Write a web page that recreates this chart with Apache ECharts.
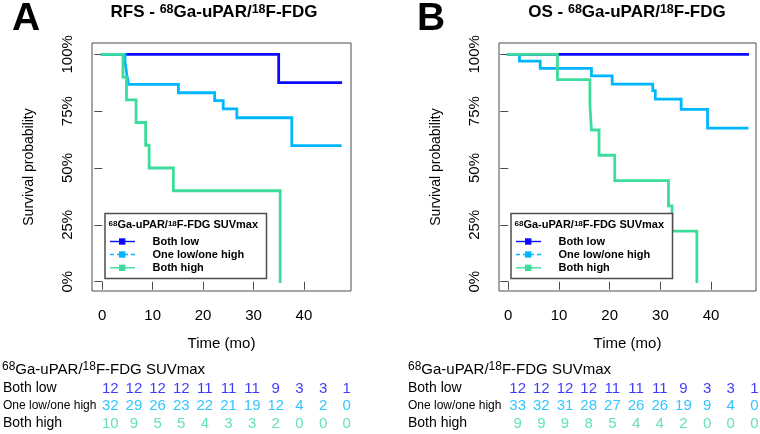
<!DOCTYPE html>
<html><head><meta charset="utf-8">
<script src="https://cdn.jsdelivr.net/npm/echarts@6/dist/echarts.min.js"></script>
<style>html,body{margin:0;padding:0;background:#fff}#c{width:760px;height:434px}</style>
</head><body><div id="c"></div>
<script>
const FONT = "'Liberation Sans', Arial, Helvetica, sans-serif";
const groups = ['Both low', 'One low/one high', 'Both high'];
const colors = ['#0a0aff', '#00b6ff', '#3ddc9a'];

// Panel A: RFS Kaplan-Meier steps [time (mo), survival]
const rfsBothLow = [[0,1],[35.0,0.875],[47.3,0.875]];
const rfsOneHigh = [[0,1],[4.5,0.969],[4.7,0.938],[4.9,0.906],[5.2,0.868],[15.1,0.831],[22.3,0.796],[24.0,0.760],[26.7,0.721],[37.6,0.598],[47.2,0.598]];
const rfsBothHigh = [[0,1],[4.1,0.9],[4.8,0.8],[6.7,0.7],[8.6,0.6],[9.3,0.5],[14.1,0.4],[35.3,0]];

// Panel B: OS
const osBothLow = [[0,1],[47.2,1]];
const osOneHigh = [[0,1],[2.2,0.970],[6.3,0.938],[16.4,0.905],[20.5,0.869],[28.5,0.840],[29.0,0.803],[34.1,0.758],[39.3,0.675],[47.1,0.675]];
const osBothHigh = [[0,1],[9.7,0.889],[16.1,0.778],[16.4,0.667],[17.9,0.556],[21.0,0.444],[31.6,0.333],[32.3,0.222],[37.2,0]];

// Numbers at risk
const riskTimes = ['0','5','10','15','20','25','30','35','40','45','50'];
const rfsRiskBothLow = [12,12,12,12,11,11,11,9,3,3,1];
const rfsRiskOneHigh = [32,29,26,23,22,21,19,12,4,2,0];
const rfsRiskBothHigh = [10,9,5,5,4,3,3,2,0,0,0];
const osRiskBothLow = [12,12,12,12,11,11,11,9,3,3,1];
const osRiskOneHigh = [33,32,31,28,27,26,26,19,9,4,0];
const osRiskBothHigh = [9,9,9,8,5,4,4,2,0,0,0];

const xTicks = [0,10,20,30,40];
const yTicks = [0,0.25,0.5,0.75,1];
const yTickLabels = ['0%','25%','50%','75%','100%'];

const GRAY = '#4d4d4d';

function plotX(gi, min, max) {
  return {
    type: 'value', gridIndex: gi, min: min, max: max,
    axisLine: {show: false},
    splitLine: {show: false},
    axisTick: {show: true, customValues: xTicks, length: 8, lineStyle: {color: GRAY, width: 1}},
    axisLabel: {customValues: xTicks, fontSize: 15, fontFamily: FONT, color: '#000', margin: 17},
    name: 'Time (mo)', nameLocation: 'middle', nameGap: 45,
    nameTextStyle: {fontSize: 15, fontFamily: FONT, color: '#000'}
  };
}
function plotY(gi) {
  return {
    type: 'value', gridIndex: gi, min: -0.041, max: 1.0497,
    axisLine: {show: false},
    splitLine: {show: false},
    axisTick: {show: true, customValues: yTicks, length: 8, lineStyle: {color: GRAY, width: 1}},
    axisLabel: {customValues: yTicks, rotate: 90, fontSize: 15, fontFamily: FONT, color: '#000', margin: 17,
      formatter: v => yTickLabels[yTicks.indexOf(v)] || ''},
    name: 'Survival probability', nameLocation: 'middle', nameRotate: 90, nameGap: 56,
    nameTextStyle: {fontSize: 14, fontFamily: FONT, color: '#000'}
  };
}
function tableX(gi) {
  return {type: 'category', gridIndex: gi, data: riskTimes, boundaryGap: false, show: false};
}
function tableY(gi, margin) {
  return {
    type: 'category', gridIndex: gi, data: groups, inverse: true, boundaryGap: false,
    axisLine: {show: false}, axisTick: {show: false}, splitLine: {show: false},
    axisLabel: {show: true, align: 'left', margin: margin,
      formatter: v => v === 'One low/one high' ? '{n|' + v + '}' : '{w|' + v + '}',
      rich: {
        w: {fontSize: 14, fontFamily: FONT, color: '#000'},
        n: {fontSize: 12, fontFamily: FONT, color: '#000'}
      }}
  };
}
function curve(name, data, ci, xi) {
  return {
    name: name, type: 'line', step: 'end', data: data, xAxisIndex: xi, yAxisIndex: xi,
    showSymbol: false, symbol: 'rect', animation: false,
    lineStyle: {color: colors[ci], width: 2.8, cap: 'square', join: 'miter'},
    itemStyle: {color: colors[ci]}, z: 2 + ci
  };
}
function riskSeries(arr, row, ci, ai) {
  return {
    type: 'scatter', xAxisIndex: ai, yAxisIndex: ai, animation: false,
    data: arr.map((v, i) => [i, row, v]),
    symbolSize: 1, itemStyle: {color: 'rgba(0,0,0,0)'},
    label: {show: true, position: 'inside', formatter: p => String(p.value[2]),
      fontSize: 15, fontFamily: FONT, color: colors[ci]}
  };
}

function supText(x, y, parts, mainSize, supSize, bold, align, raise) {
  const fw = bold ? 'bold' : 'normal';
  let text = '';
  parts.forEach(p => { text += (p[1] ? '{s|' : '{m|') + p[0] + '}'; });
  return {
    type: 'text', x: x, y: y, z: 10,
    style: {
      text: text, align: align, verticalAlign: 'middle',
      rich: {
        m: {fontSize: mainSize, fontFamily: FONT, fontWeight: fw, fill: '#000', color: '#000', verticalAlign: 'bottom', lineHeight: mainSize},
        s: {fontSize: supSize, fontFamily: FONT, fontWeight: fw, fill: '#000', color: '#000', verticalAlign: 'bottom', padding: [0,0,raise,0]}
      }
    }
  };
}
function legendGraphic(dx) {
  const els = [];
  els.push({type: 'rect', shape: {x: 105 + dx, y: 213.5, width: 161.5, height: 65}, style: {fill: '#fff', stroke: GRAY, lineWidth: 1.5}, z: 8});
  els.push(supText(108.5 + dx, 225, [['68',1],['Ga-uPAR/',0],['18',1],['F-FDG SUVmax',0]], 11, 8, true, 'left', 3));
  const rows = [241.5, 254.5, 267.8];
  groups.forEach((g, i) => {
    els.push({type: 'line', z: 9, shape: {x1: 110 + dx, y1: rows[i], x2: 135 + dx, y2: rows[i]},
      style: {stroke: colors[i], lineWidth: 1.4, lineDash: i === 1 ? [4, 3] : null}});
    els.push({type: 'rect', z: 9, shape: {x: 119 + dx, y: rows[i] - 3.2, width: 6.4, height: 6.4}, style: {fill: colors[i]}});
    els.push({type: 'text', z: 10, x: 152.5 + dx, y: rows[i],
      style: {text: g, fontSize: 11, fontWeight: 'bold', fontFamily: FONT, fill: '#000', align: 'left', verticalAlign: 'middle'}});
  });
  return els;
}

const chart = echarts.init(document.getElementById('c'), null, {renderer: 'canvas'});
const graphics = [
  {type: 'text', x: 12, y: 19, style: {text: 'A', fontSize: 39, fontWeight: 'bold', fontFamily: FONT, fill: '#000', align: 'left', verticalAlign: 'middle'}},
  {type: 'text', x: 417, y: 19, style: {text: 'B', fontSize: 39, fontWeight: 'bold', fontFamily: FONT, fill: '#000', align: 'left', verticalAlign: 'middle'}},
  supText(214, 12, [['RFS - ',0],['68',1],['Ga-uPAR/',0],['18',1],['F-FDG',0]], 17, 12.5, true, 'center', 4),
  supText(627, 12, [['OS - ',0],['68',1],['Ga-uPAR/',0],['18',1],['F-FDG',0]], 17, 12.5, true, 'center', 4),
  supText(2, 369, [['68',1],['Ga-uPAR/',0],['18',1],['F-FDG SUVmax',0]], 15, 12, false, 'left', 5),
  supText(408, 369, [['68',1],['Ga-uPAR/',0],['18',1],['F-FDG SUVmax',0]], 15, 12, false, 'left', 5)
].concat(legendGraphic(0), legendGraphic(406));

chart.setOption({
  backgroundColor: '#fff',
  animation: false,
  textStyle: {fontFamily: FONT},
  grid: [
    {left: 92, top: 43, width: 259, height: 248, show: true, borderColor: GRAY, borderWidth: 1, backgroundColor: 'transparent'},
    {left: 499, top: 43, width: 257, height: 248, show: true, borderColor: GRAY, borderWidth: 1, backgroundColor: 'transparent'},
    {left: 110, top: 388.5, width: 236.7, height: 35},
    {left: 517.7, top: 388.5, width: 236.7, height: 35}
  ],
  xAxis: [plotX(0, -2.04, 49.35), plotX(1, -1.83, 48.86), tableX(2), tableX(3)],
  yAxis: [plotY(0), plotY(1), tableY(2, 107.3), tableY(3, 109.7)],
  series: [
    curve(groups[0], rfsBothLow, 0, 0),
    curve(groups[1], rfsOneHigh, 1, 0),
    curve(groups[2], rfsBothHigh, 2, 0),
    curve(groups[0], osBothLow, 0, 1),
    curve(groups[1], osOneHigh, 1, 1),
    curve(groups[2], osBothHigh, 2, 1),
    riskSeries(rfsRiskBothLow, 0, 0, 2),
    riskSeries(rfsRiskOneHigh, 1, 1, 2),
    riskSeries(rfsRiskBothHigh, 2, 2, 2),
    riskSeries(osRiskBothLow, 0, 0, 3),
    riskSeries(osRiskOneHigh, 1, 1, 3),
    riskSeries(osRiskBothHigh, 2, 2, 3)
  ],
  graphic: graphics
});
</script></body></html>
